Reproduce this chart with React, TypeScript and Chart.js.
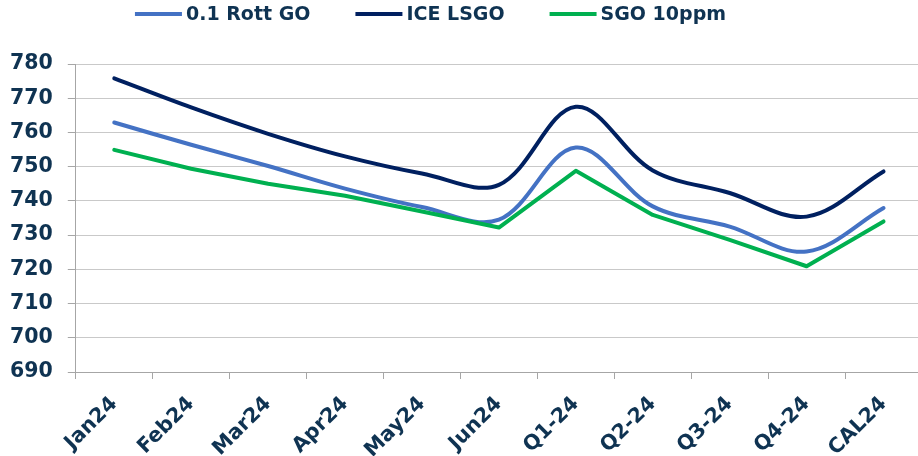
import React, { useEffect, useRef } from 'react';
import { Chart, registerables } from 'chart.js';

Chart.register(...registerables);

const categories = ['Jan24', 'Feb24', 'Mar24', 'Apr24', 'May24', 'Jun24', 'Q1-24', 'Q2-24', 'Q3-24', 'Q4-24', 'CAL24'];
const rottGO = [762.9, 756.4, 750.2, 743.6, 738.2, 734.5, 755.6, 738.4, 732.5, 725.2, 737.9];
const iceLSGO = [775.8, 767.3, 759.6, 753.0, 748.0, 744.7, 767.5, 748.9, 742.3, 735.4, 748.6];
const sgo10ppm = [754.9, 749.4, 745.0, 741.5, 736.9, 732.2, 748.8, 735.9, 728.6, 720.9, 734.0];
const seriesNames = ['0.1 Rott GO', 'ICE LSGO', 'SGO 10ppm'];
const yMin = 690;
const yMax = 780;
const yStep = 10;

const TEXT = '#0F3352';
const FONT = '"DejaVu Sans", Verdana, sans-serif';
const AXIS = '#a6a6a6';
const CANVAS_W = 927;
const CANVAS_H = 456;
const SHIFT_X = -5;
const PLOT_BOTTOM = 372;

const legendPlugin = {
  id: 'topLegend',
  afterDraw(chart: any) {
    const ctx = chart.ctx;
    ctx.save();
    ctx.font = `bold 19px ${FONT}`;
    const items = chart.data.datasets.map((ds: any) => ({
      label: ds.label,
      color: ds.borderColor,
      w: ctx.measureText(ds.label).width,
    }));
    const lineLen = 47;
    const gap = 4;
    const spacing = 45;
    const total =
      items.reduce((s: number, it: any) => s + lineLen + gap + it.w, 0) + spacing * (items.length - 1);
    let x = 430.5 - SHIFT_X - total / 2;
    const y = 14;
    items.forEach((it: any) => {
      ctx.strokeStyle = it.color;
      ctx.lineWidth = 4;
      ctx.lineCap = 'butt';
      ctx.beginPath();
      ctx.moveTo(x, y);
      ctx.lineTo(x + lineLen, y);
      ctx.stroke();
      ctx.fillStyle = TEXT;
      ctx.textBaseline = 'middle';
      ctx.textAlign = 'left';
      ctx.fillText(it.label, x + lineLen + gap, y + 1);
      x += lineLen + gap + it.w + spacing;
    });
    ctx.restore();
  },
};

export default function App() {
  const ref = useRef<HTMLCanvasElement | null>(null);

  useEffect(() => {
    if (!ref.current) return;
    const tickFont = { family: FONT, size: 20.5, weight: 'bold' as const };
    const lineDs = (label: string, data: number[], color: string, tension: number, order: number) => ({
      label,
      data,
      borderColor: color,
      backgroundColor: color,
      borderWidth: 4,
      tension,
      pointRadius: 0,
      borderCapStyle: 'round' as const,
      borderJoinStyle: 'round' as const,
      order,
    });
    const chart = new Chart(ref.current, {
      type: 'line',
      data: {
        labels: categories,
        datasets: [
          lineDs(seriesNames[0], rottGO, '#4472C4', 0.35, 2),
          lineDs(seriesNames[1], iceLSGO, '#002060', 0.35, 1),
          lineDs(seriesNames[2], sgo10ppm, '#00B050', 0, 0),
        ],
      },
      options: {
        responsive: false,
        animation: false,
        layout: { padding: { top: 64, left: 0, right: 0, bottom: 0 } },
        plugins: { legend: { display: false }, tooltip: { enabled: false } },
        scales: {
          x: {
            offset: true,
            afterFit: (scale: any) => {
              scale.height = CANVAS_H - PLOT_BOTTOM;
            },
            grid: {
              offset: true,
              drawOnChartArea: false,
              drawTicks: true,
              tickLength: 7,
              color: AXIS,
            },
            border: { color: AXIS, width: 1 },
            ticks: {
              minRotation: 45,
              maxRotation: 45,
              autoSkip: false,
              padding: 13,
              color: TEXT,
              font: tickFont,
            },
          },
          y: {
            min: yMin,
            max: yMax,
            ticks: { stepSize: yStep, padding: 15, color: TEXT, font: tickFont },
            grid: { color: '#c9c9c9', tickLength: 8, drawTicks: true, tickColor: AXIS },
            border: { color: AXIS, width: 1 },
          },
        },
      },
      plugins: [legendPlugin],
    });
    return () => chart.destroy();
  }, []);

  return (
    <div style={{ position: 'fixed', left: 0, top: 0, width: 918, height: 456, overflow: 'hidden', background: '#fff' }}>
      <canvas
        ref={ref}
        width={CANVAS_W}
        height={CANVAS_H}
        style={{ display: 'block', position: 'absolute', left: SHIFT_X, top: 0 }}
      />
    </div>
  );
}
